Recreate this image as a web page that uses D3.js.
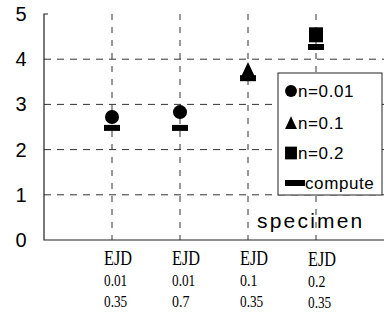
<!DOCTYPE html>
<html>
<head>
<meta charset="utf-8">
<script src="https://cdn.jsdelivr.net/npm/d3@7"></script>
<style>
  body { margin: 0; background: #fff; }
  svg { display: block; }
</style>
</head>
<body>
<div id="chart"></div>
<script>
// data
const categories = ['EJD|0.01|0.35', 'EJD|0.01|0.7', 'EJD|0.1|0.35', 'EJD|0.2|0.35'];
const specimenVals = [2.72, 2.83, 3.76, 4.54];
const specimenShape = ['circle', 'circle', 'triangle', 'square'];
const computeVals = [2.48, 2.48, 3.58, 4.27];
const yTicks = [0, 1, 2, 3, 4, 5];
const legendLabels = ['n=0.01', 'n=0.1', 'n=0.2', 'compute'];

const W = 390, H = 313;
const svg = d3.select('#chart').append('svg').attr('width', W).attr('height', H);

const x = d3.scaleLinear().domain([0, 5]).range([44, 384]);
const y = d3.scaleLinear().domain([0, 5]).range([240, 14]);

// grid
svg.append('g').selectAll('line').data(yTicks.filter((d) => d > 0 && d < 5)).enter()
  .append('line')
  .attr('x1', x(0)).attr('x2', x(5))
  .attr('y1', (d) => y(d)).attr('y2', (d) => y(d))
  .attr('stroke', '#333').attr('stroke-width', 1).attr('stroke-dasharray', '7,6');

svg.append('g').selectAll('line').data(categories).enter()
  .append('line')
  .attr('x1', (d, i) => x(i + 1)).attr('x2', (d, i) => x(i + 1))
  .attr('y1', y(5)).attr('y2', y(0))
  .attr('stroke', '#333').attr('stroke-width', 1).attr('stroke-dasharray', '6,7');

// axes
svg.append('path')
  .attr('d', `M${x(0) + 4},${y(5)}H${x(0)}V${y(0)}H${x(5)}`)
  .attr('fill', 'none').attr('stroke', '#222').attr('stroke-width', 1.2);

svg.append('g').selectAll('text').data(yTicks).enter()
  .append('text')
  .attr('x', 21).attr('y', (d) => y(d) + 7)
  .attr('text-anchor', 'middle')
  .style('font', '20px "Liberation Sans", Arial, sans-serif')
  .text((d) => d);

// x tick labels (three lines each, narrow serif)
const xl = svg.append('g').selectAll('g').data(categories).enter()
  .append('g')
  .attr('transform', (d, i) => `translate(${x(i + 1) - 8},${i === 3 ? 1 : 0})`);
xl.append('text').attr('y', 265)
  .style('font', '22px "Liberation Serif", serif')
  .attr('textLength', 28).attr('lengthAdjust', 'spacingAndGlyphs')
  .text((d) => d.split('|')[0]);
const num = (s) => s.length * 5.8;
xl.append('text').attr('y', 286)
  .style('font', '16px "Liberation Serif", serif')
  .attr('textLength', (d) => num(d.split('|')[1])).attr('lengthAdjust', 'spacingAndGlyphs')
  .text((d) => d.split('|')[1]);
xl.append('text').attr('y', 307)
  .style('font', '16px "Liberation Serif", serif')
  .attr('textLength', (d) => num(d.split('|')[2])).attr('lengthAdjust', 'spacingAndGlyphs')
  .text((d) => d.split('|')[2]);

function marker(g, shape, cx, cy, s = 1) {
  if (shape === 'circle') {
    g.append('circle').attr('cx', cx).attr('cy', cy).attr('r', 7 * s).attr('fill', '#000');
  } else if (shape === 'triangle') {
    g.append('path').attr('d', `M${cx},${cy - 8 * s}L${cx + 7 * s},${cy + 7 * s}L${cx - 7 * s},${cy + 7 * s}Z`).attr('fill', '#000');
  } else if (shape === 'square') {
    g.append('rect').attr('x', cx - 7 * s).attr('y', cy - 7.5 * s).attr('width', 14 * s).attr('height', 15 * s).attr('fill', '#000');
  } else {
    g.append('rect').attr('x', cx - 8 * s).attr('y', cy - 3).attr('width', 16 * s).attr('height', 6).attr('fill', '#000');
  }
}

const marks = svg.append('g');
categories.forEach((c, i) => {
  marker(marks, specimenShape[i], x(i + 1), y(specimenVals[i]));
  marker(marks, 'bar', x(i + 1), y(computeVals[i]));
});

// legend
const lg = svg.append('g');
lg.append('rect').attr('x', 278).attr('y', 73).attr('width', 104).attr('height', 122)
  .attr('fill', '#fff').attr('stroke', '#222').attr('stroke-width', 1);
const legendShapes = ['circle', 'triangle', 'square', 'bar'];
const legendY = [91, 123, 153, 183];
const legendTextX = [298, 298, 298, 305];
legendLabels.forEach((l, i) => {
  marker(lg, legendShapes[i], i === 3 ? 295 : 291, legendY[i], i === 3 ? 1.25 : 0.85);
  lg.append('text').attr('x', legendTextX[i]).attr('y', legendY[i] + 6)
    .style('font', '17px "Liberation Sans", Arial, sans-serif')
    .attr('letter-spacing', '0.6')
    .text(l);
});

svg.append('text').attr('x', 257).attr('y', 228)
  .style('font', '21px "Liberation Sans", Arial, sans-serif').attr('letter-spacing', '2.2')
  .text('specimen');
</script>
</body>
</html>
